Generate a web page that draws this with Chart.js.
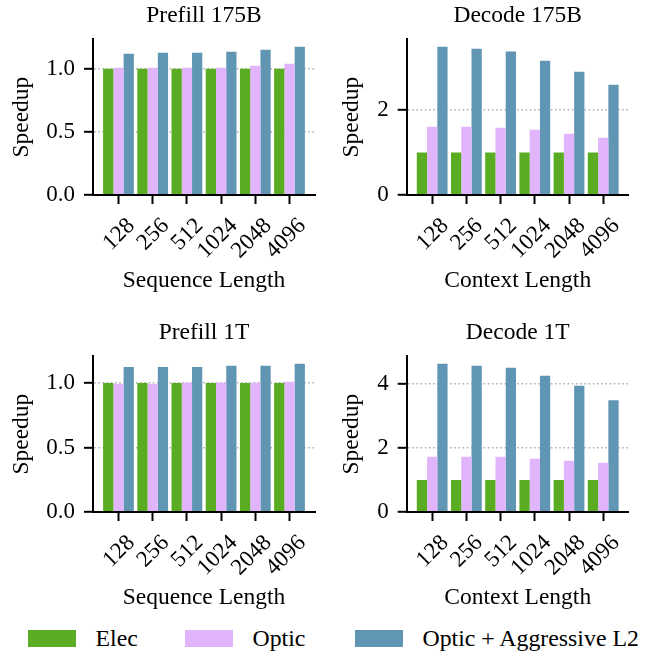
<!DOCTYPE html>
<html><head><meta charset="utf-8">
<script src="https://cdn.jsdelivr.net/npm/chart.js@4.4.1/dist/chart.umd.min.js"></script>
<style>
html,body{margin:0;padding:0;background:#fff;overflow:hidden;}
#wrap{position:relative;width:656px;height:654px;overflow:hidden;font-family:'Liberation Serif','Times New Roman',serif;}
.pane{position:absolute;width:328px;height:300px;}
.pane canvas{display:block;}
.leg{position:absolute;top:630px;height:17px;width:47.5px;}
.legt{position:absolute;top:624px;font-size:23.8px;line-height:28px;color:#000;white-space:nowrap;}
</style></head><body>
<div id="wrap">
  <div class="pane" style="left:0;top:0"><canvas id="c0" width="328" height="300"></canvas></div>
  <div class="pane" style="left:328px;top:0"><canvas id="c1" width="328" height="300"></canvas></div>
  <div class="pane" style="left:0;top:317.4px"><canvas id="c2" width="328" height="300"></canvas></div>
  <div class="pane" style="left:328px;top:317.4px"><canvas id="c3" width="328" height="300"></canvas></div>
  <div id="legend"></div>
</div>
<script>
// ---------------- data ----------------
const categories = ['128', '256', '512', '1024', '2048', '4096'];
const seriesNames = ['Elec', 'Optic', 'Optic + Aggressive L2'];
const seriesColors = ['#5aac22', '#e1b5fb', '#6096b4'];

const prefill175B_elec  = [1.0, 1.0, 1.0, 1.0, 1.0, 1.0];
const prefill175B_optic = [1.008, 1.008, 1.008, 1.008, 1.024, 1.040];
const prefill175B_optL2 = [1.119, 1.127, 1.127, 1.135, 1.151, 1.175];

const decode175B_elec  = [1.0, 1.0, 1.0, 1.0, 1.0, 1.0];
const decode175B_optic = [1.600, 1.600, 1.576, 1.529, 1.435, 1.341];
const decode175B_optL2 = [3.480, 3.435, 3.365, 3.153, 2.894, 2.588];

const prefill1T_elec  = [1.0, 1.0, 1.0, 1.0, 1.0, 1.0];
const prefill1T_optic = [0.995, 0.995, 1.003, 1.003, 1.003, 1.010];
const prefill1T_optL2 = [1.124, 1.124, 1.124, 1.134, 1.134, 1.150];

const decode1T_elec  = [1.0, 1.0, 1.0, 1.0, 1.0, 1.0];
const decode1T_optic = [1.729, 1.729, 1.729, 1.667, 1.604, 1.542];
const decode1T_optL2 = [4.635, 4.573, 4.510, 4.260, 3.948, 3.490];

const prefillYTicks = [0, 0.5, 1.0];
const prefillYTickLabels = ['0.0', '0.5', '1.0'];
const decode175BYTicks = [0, 2];
const decode175BYTickLabels = ['0', '2'];
const decode1TYTicks = [0, 2, 4];
const decode1TYTickLabels = ['0', '2', '4'];

// ---------------- drawing ----------------
const FAMILY = "'Liberation Serif', 'Times New Roman', serif";
const TXT = 23.5, TICK = 23;

function makeChart(id, title, xTitle, series, yTicks, yTickLabels, yAxisWidth, yTitlePad) {
  const allVals = [].concat(...series);
  const yMax = Math.max(...allVals) * 1.05;   // matplotlib default top margin
  const nCat = categories.length;
  const groupWidth = 0.9;
  const span = (nCat - 1) + groupWidth;
  const xMin = -groupWidth / 2 - span * 0.05;
  const xMax = (nCat - 1) + groupWidth / 2 + span * 0.05;
  const rightPad = 328 - (yAxisWidth + 222);

  return new Chart(document.getElementById(id), {
    type: 'bar',
    data: {
      datasets: series.map((arr, k) => ({
        label: seriesNames[k],
        data: arr.map((v, i) => ({ x: i, y: v })),
        backgroundColor: seriesColors[k],
        borderWidth: 0,
        categoryPercentage: groupWidth,
        barPercentage: 1.0
      }))
    },
    options: {
      responsive: false,
      animation: false,
      events: [],
      layout: { padding: { left: 0, right: rightPad, top: 0, bottom: 0 } },
      plugins: {
        legend: { display: false },
        tooltip: { enabled: false },
        title: {
          display: true, text: title, fullSize: false, color: '#000',
          font: { family: FAMILY, size: TXT, weight: 'normal' },
          padding: { top: 1.4, bottom: 39.3 - 1.4 - TXT * 1.2 }
        }
      },
      scales: {
        x: {
          type: 'linear', position: 'bottom', min: xMin, max: xMax, offset: false,
          afterBuildTicks: s => { s.ticks = categories.map((c, i) => ({ value: i })); },
          afterFit: s => { s.height = 105; s.paddingLeft = 0; s.paddingRight = 0; s.paddingTop = 0; s.paddingBottom = 0; },
          ticks: {
            autoSkip: false, minRotation: 45, maxRotation: 45, padding: 8.5, labelOffset: 12.8,
            color: '#000', font: { family: FAMILY, size: TICK },
            callback: (v, i) => categories[i]
          },
          grid: { display: true, offset: false, drawOnChartArea: false, drawTicks: true, tickLength: 9, tickWidth: 2, tickColor: '#000' },
          border: { display: true, color: '#000', width: 2, z: 1 },
          title: {
            display: true, text: xTitle, color: '#000',
            font: { family: FAMILY, size: TXT }, padding: { top: 0, bottom: 5.5 }
          }
        },
        y: {
          type: 'linear', position: 'left', min: 0, max: yMax,
          afterBuildTicks: s => { s.ticks = yTicks.map(v => ({ value: v })); },
          afterFit: s => { s.width = yAxisWidth; s.paddingLeft = 0; s.paddingRight = 0; s.paddingTop = 0; s.paddingBottom = 0; },
          ticks: {
            padding: 9, color: '#000', font: { family: FAMILY, size: TICK },
            callback: (v, i) => yTickLabels[i]
          },
          grid: {
            offset: false,
            color: ctx => (ctx.tick && ctx.tick.value === 0) ? 'rgba(0,0,0,0)' : '#b0b0b0',
            lineWidth: 1.6, drawTicks: true, tickLength: 9, tickWidth: 2, tickColor: '#000', tickBorderDash: []
          },
          border: { display: true, color: '#000', width: 2, dash: [1.6, 2.6], z: 1 },
          title: {
            display: true, text: 'Speedup', color: '#000',
            font: { family: FAMILY, size: TXT }, padding: { top: yTitlePad, bottom: 0 }
          }
        }
      }
    }
  });
}

makeChart('c0', 'Prefill 175B', 'Sequence Length',
  [prefill175B_elec, prefill175B_optic, prefill175B_optL2], prefillYTicks, prefillYTickLabels, 93, 8.2);
makeChart('c1', 'Decode 175B', 'Context Length',
  [decode175B_elec, decode175B_optic, decode175B_optL2], decode175BYTicks, decode175BYTickLabels, 78.7, 10.2);
makeChart('c2', 'Prefill 1T', 'Sequence Length',
  [prefill1T_elec, prefill1T_optic, prefill1T_optL2], prefillYTicks, prefillYTickLabels, 93, 8.2);
makeChart('c3', 'Decode 1T', 'Context Length',
  [decode1T_elec, decode1T_optic, decode1T_optL2], decode1TYTicks, decode1TYTickLabels, 78.7, 10.2);

// legend
const legendLefts = [28, 185, 355];
const leg = document.getElementById('legend');
seriesNames.forEach((name, k) => {
  const sw = document.createElement('div');
  sw.className = 'leg';
  sw.style.left = legendLefts[k] + 'px';
  sw.style.background = seriesColors[k];
  leg.appendChild(sw);
  const t = document.createElement('div');
  t.className = 'legt';
  t.style.left = (legendLefts[k] + 67.5) + 'px';
  t.textContent = name;
  leg.appendChild(t);
});
</script>
</body></html>
